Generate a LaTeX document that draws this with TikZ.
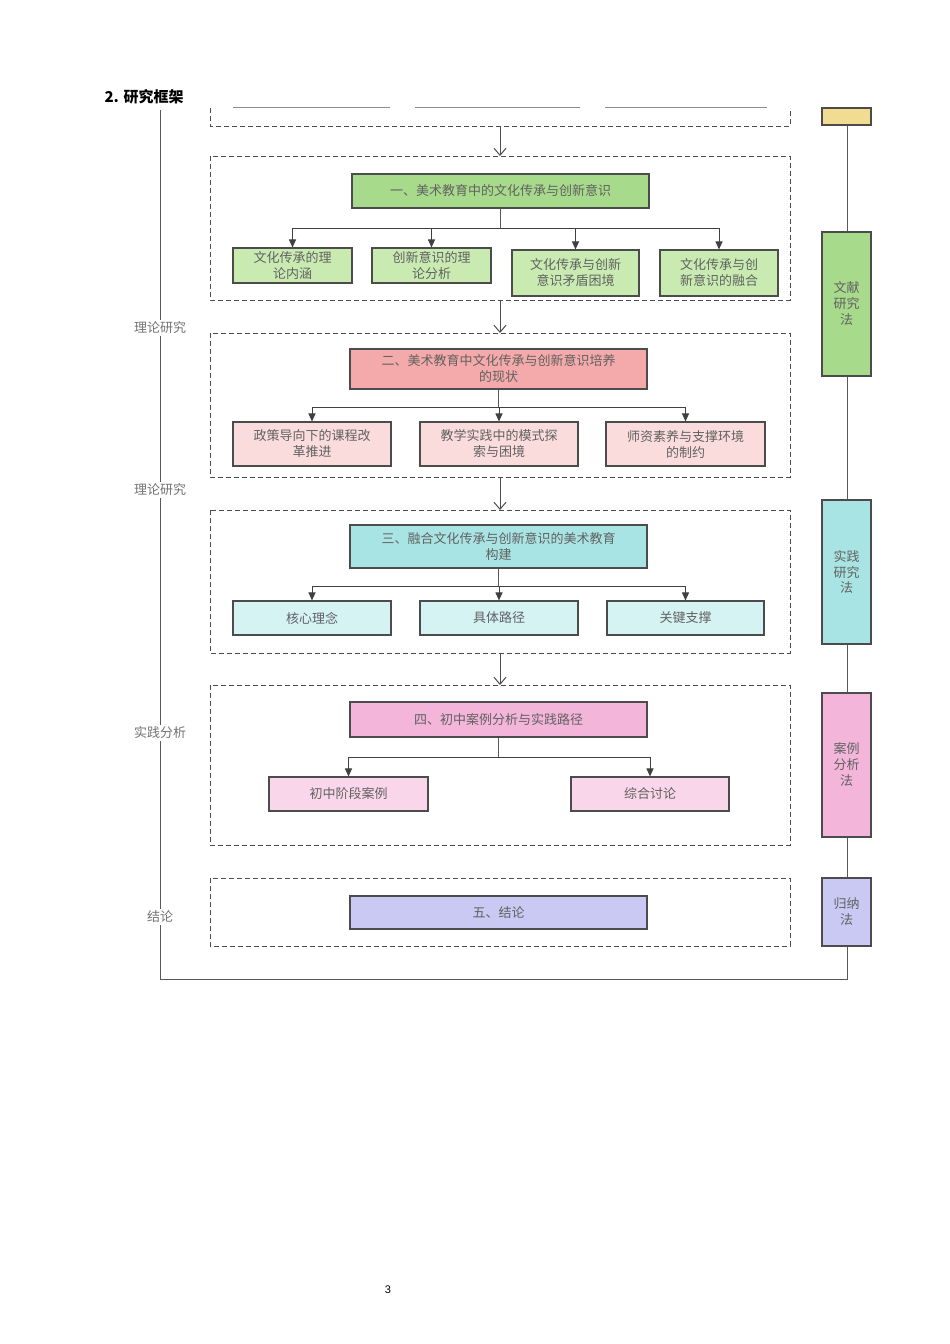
\documentclass[tikz,border=0pt]{standalone}
\usepackage{fontspec}
\setmainfont{Liberation Sans}
\newfontfamily\cjk{Noto Sans CJK SC}
\usetikzlibrary{arrows.meta}
\definecolor{gA}{HTML}{A8DA8C}\definecolor{gB}{HTML}{C9EBB2}
\definecolor{rA}{HTML}{F4AAAA}\definecolor{rB}{HTML}{FADCDC}
\definecolor{cA}{HTML}{A9E4E4}\definecolor{cB}{HTML}{D6F3F3}
\definecolor{mA}{HTML}{F3B5DA}\definecolor{mB}{HTML}{FAD6EA}
\definecolor{lA}{HTML}{C9C9F3}\definecolor{yA}{HTML}{F1DC92}
\begin{document}
\begin{tikzpicture}[x=1pt,y=-1pt,
 box/.style={draw=black!70,line width=1.1pt,align=center,inner sep=0pt,text=black!62,font=\cjk\fontsize{13}{16}\selectfont},
 frame/.style={draw=black!70,line width=1pt,dash pattern=on 5pt off 3pt},
 vr/.style={-{Straight Barb[length=7pt,width=12pt]},black!70,line width=1pt},
 br/.style={-{Triangle[length=8pt,width=7pt]},black!75,line width=1pt},
 ln/.style={black!65,line width=1pt},
 side/.style={text=black!55,font=\cjk\fontsize{13}{16}\selectfont,fill=white,inner sep=2pt}]
\useasboundingbox (0,0) rectangle (950,1344);
\fill[white] (0,0) rectangle (950,1344);
\node[anchor=west,font=\cjk\bfseries\fontsize{15}{18}\selectfont] (title) at (101,97) {2. 研究框架};
% left and bottom frame lines
\coordinate (lt) at (160,110); \coordinate (lb) at (160,979);
\coordinate (rb) at (847,979); \coordinate (rt) at (847,108);
\draw[ln] (lt) -- (lb) -- (rb) -- (rt);
\node[side] (s1) at (160,328) {理论研究};
\node[side] (s2) at (160,490) {理论研究};
\node[side] (s3) at (160,733) {实践分析};
\node[side] (s4) at (160,917) {结论};
% right column
\node[box,fill=yA,minimum width=49,minimum height=17] (m0) at (846.5,116.5) {};
\node[box,fill=gA,minimum width=49,minimum height=144] (m1) at (846.5,304) {文献\\研究\\法};
\node[box,fill=cA,minimum width=49,minimum height=144] (m2) at (846.5,572) {实践\\研究\\法};
\node[box,fill=mA,minimum width=49,minimum height=144] (m3) at (846.5,765) {案例\\分析\\法};
\node[box,fill=lA,minimum width=49,minimum height=68] (m4) at (846.5,912) {归纳\\法};
% top partial frame
\draw[frame] (210,108) -- (210,126) -- (790,126) -- (790,108);
\draw[black!45,line width=0.8pt] (233,107)--(390,107) (415,107)--(580,107) (605,107)--(767,107);
\coordinate (f0) at (500,126);
% frames
\draw[frame] (210,156) rectangle (790,300);
\draw[frame] (210,333) rectangle (790,477);
\draw[frame] (210,510) rectangle (790,653);
\draw[frame] (210,685) rectangle (790,845);
\draw[frame] (210,878) rectangle (790,946);
\coordinate (f1t) at (500,156); \coordinate (f1b) at (500,300);
\coordinate (f2t) at (500,333); \coordinate (f2b) at (500,477);
\coordinate (f3t) at (500,510); \coordinate (f3b) at (500,653);
\coordinate (f4t) at (500,685);
\draw[vr] (f0) -- (f1t);
\draw[vr] (f1b) -- (f2t);
\draw[vr] (f2b) -- (f3t);
\draw[vr] (f3b) -- (f4t);
% section 1
\node[box,fill=gA,minimum width=297,minimum height=34] (a) at (500.5,191) {一、美术教育中的文化传承与创新意识};
\node[box,fill=gB,minimum width=119,minimum height=35,text width=105] (a1) at (292.5,265.5) {文化传承的理\\论内涵};
\node[box,fill=gB,minimum width=119,minimum height=35,text width=105] (a2) at (431.5,265.5) {创新意识的理\\论分析};
\node[box,fill=gB,minimum width=127,minimum height=46,text width=110] (a3) at (575.5,273) {文化传承与创新\\意识矛盾困境};
\node[box,fill=gB,minimum width=118,minimum height=46,text width=105] (a4) at (719,273) {文化传承与创\\新意识的融合};
\draw[ln] (a.south) -- (500.5,228);
\foreach \n in {a1,a2,a3,a4}{\draw[br] (a.south) ++(0,20) -| (\n.north);}
% section 2
\node[box,fill=rA,minimum width=297,minimum height=40] (b) at (498.5,369) {二、美术教育中文化传承与创新意识培养\\的现状};
\node[box,fill=rB,minimum width=158,minimum height=44] (b1) at (312,444) {政策导向下的课程改\\革推进};
\node[box,fill=rB,minimum width=158,minimum height=44] (b2) at (499,444) {教学实践中的模式探\\索与困境};
\node[box,fill=rB,minimum width=159,minimum height=44] (b3) at (685.5,444) {师资素养与支撑环境\\的制约};
\draw[ln] (b.south) -- ++(0,18);
\foreach \n in {b1,b2,b3}{\draw[br] (b.south) ++(0,18) -| (\n.north);}
% section 3
\node[box,fill=cA,minimum width=297,minimum height=43] (c) at (498.5,546.5) {三、融合文化传承与创新意识的美术教育\\构建};
\node[box,fill=cB,minimum width=158,minimum height=34] (c1) at (312,618) {核心理念};
\node[box,fill=cB,minimum width=158,minimum height=34] (c2) at (499,618) {具体路径};
\node[box,fill=cB,minimum width=157,minimum height=34] (c3) at (685.5,618) {关键支撑};
\draw[ln] (c.south) -- ++(0,18);
\foreach \n in {c1,c2,c3}{\draw[br] (c.south) ++(0,18) -| (\n.north);}
% section 4
\node[box,fill=mA,minimum width=297,minimum height=35] (d) at (498.5,719.5) {四、初中案例分析与实践路径};
\node[box,fill=mB,minimum width=159,minimum height=34] (d1) at (348.5,794) {初中阶段案例};
\node[box,fill=mB,minimum width=158,minimum height=34] (d2) at (650,794) {综合讨论};
\draw[ln] (d.south) -- ++(0,20);
\foreach \n in {d1,d2}{\draw[br] (d.south) ++(0,20) -| (\n.north);}
% section 5
\node[box,fill=lA,minimum width=297,minimum height=33] (e) at (498.5,912.5) {五、结论};
\node[font=\fontsize{11}{13}\selectfont] (pg) at (388,1290) {3};
\end{tikzpicture}
\end{document}
